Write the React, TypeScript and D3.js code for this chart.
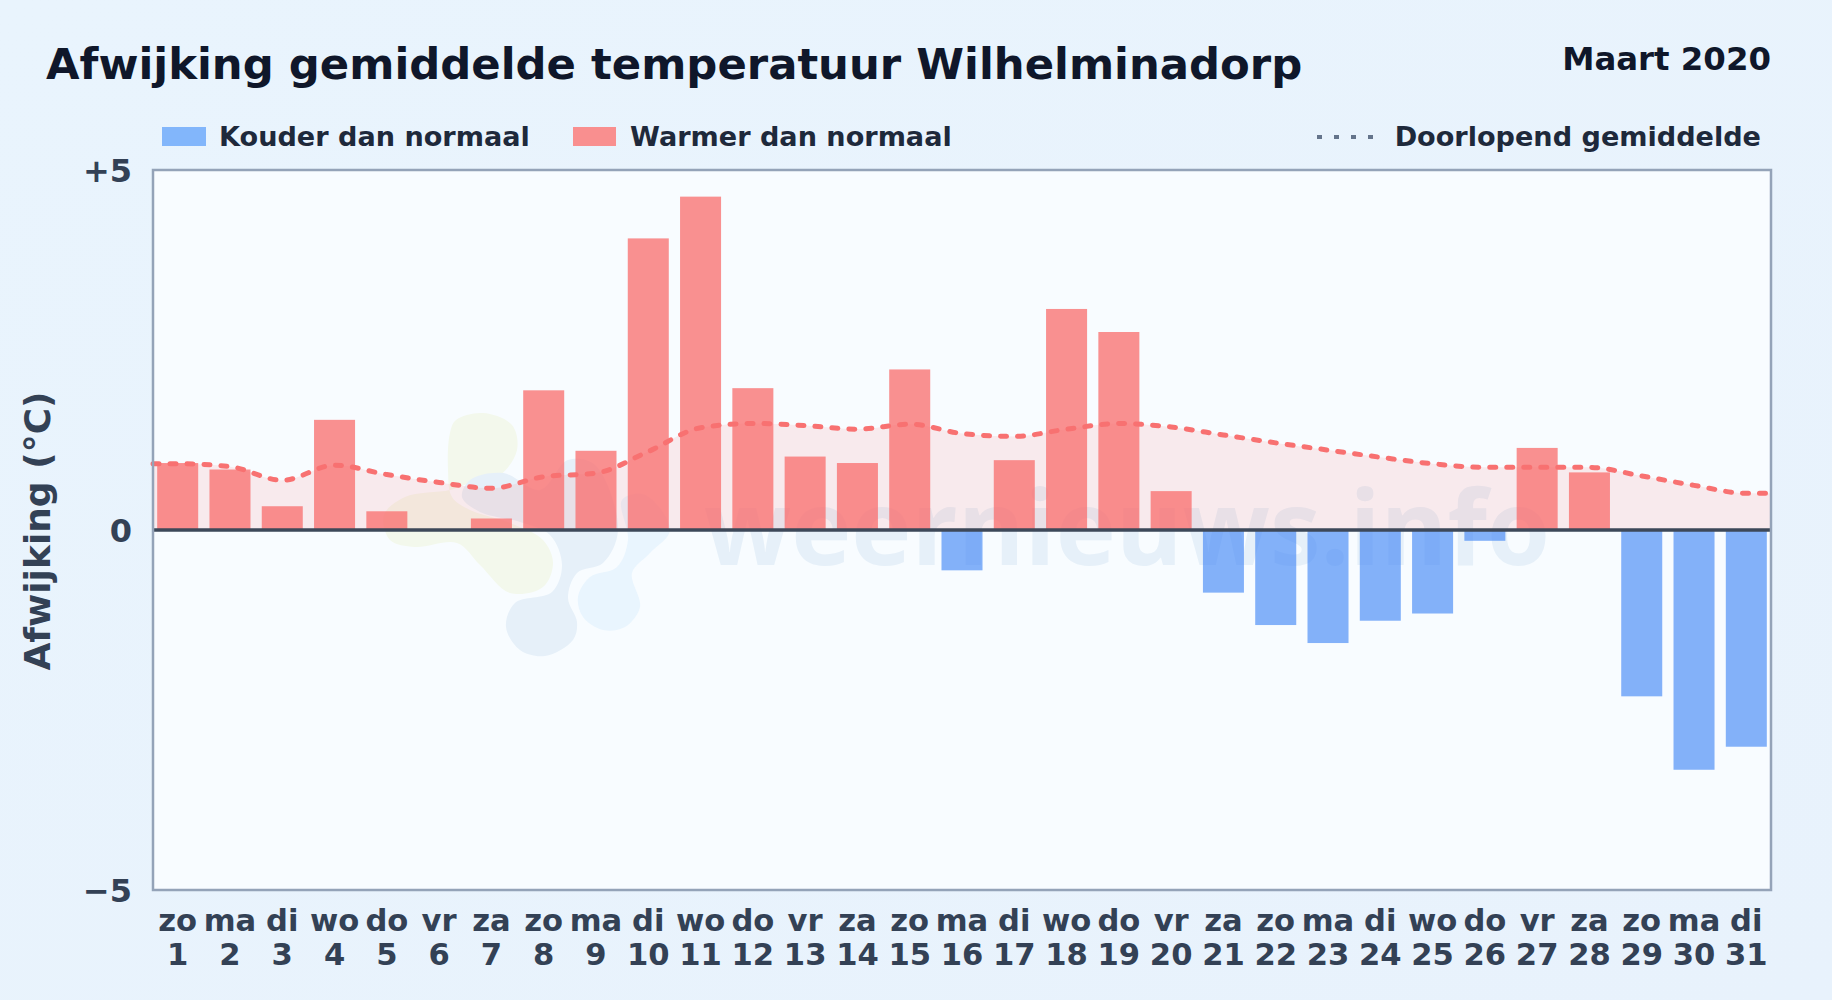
import React from "react";
import * as d3 from "d3";

const weekdays = ["zo","ma","di","wo","do","vr","za","zo","ma","di","wo","do","vr","za","zo","ma","di","wo","do","vr","za","zo","ma","di","wo","do","vr","za","zo","ma","di"];
const days = d3.range(1, 32);
const deviation = [0.93,0.84,0.33,1.53,0.26,0,0.16,1.94,1.1,4.05,4.63,1.97,1.02,0.93,2.23,-0.56,0.97,3.07,2.75,0.54,-0.87,-1.32,-1.57,-1.26,-1.16,-0.15,1.14,0.8,-2.31,-3.33,-3.01];
const runningMean = [0.92,0.88,0.69,0.9,0.77,0.66,0.58,0.74,0.79,1.09,1.42,1.48,1.45,1.40,1.47,1.34,1.3,1.40,1.48,1.43,1.32,1.21,1.11,1.01,0.92,0.87,0.87,0.87,0.75,0.62,0.51];
const yTicks: [number, string][] = [[5, "+5"], [0, "0"], [-5, "−5"]];

const FONT = "'DejaVu Sans', sans-serif";
const plot = { l: 153, r: 1771, t: 170, b: 890 };

const logoGreen: [number, number][] = [[450,433],[456,420],[483,413],[512,425],[517,450],[500,475],[470,483],[450,490],[405,497],[384,515],[390,540],[415,547],[457,543],[480,565],[510,593],[543,587],[553,563],[543,540],[510,523],[470,510],[452,497],[448,470]];
const logoDark: [number, number][] = [[462,497],[470,480],[503,473],[540,490],[568,460],[595,465],[618,530],[603,563],[577,573],[568,598],[577,622],[573,640],[545,656],[520,650],[506,627],[515,603],[552,592],[562,565],[550,535],[520,522],[480,512]];
const logoLight: [number, number][] = [[578,597],[590,577],[617,567],[628,540],[622,500],[645,495],[670,530],[650,553],[632,573],[640,607],[625,627],[603,630],[583,617]];

export default function App() {
  const x = d3.scaleBand<number>().domain(days).range([plot.l, plot.r]).paddingInner(0.2156).paddingOuter(0.08);
  const xc = d3.scaleLinear().domain([1, 31]).range([x(1)! + x.bandwidth() / 2, x(31)! + x.bandwidth() / 2]);
  const y = d3.scaleLinear().domain([-5, 5]).range([plot.b, plot.t]);

  const meanPts: [number, number][] = [[plot.l, runningMean[0]], ...days.map((d, i) => [xc(d), runningMean[i]] as [number, number]), [plot.r, runningMean[30]]];

  const line = d3.line<[number, number]>().x(d => d[0]).y(d => y(d[1])).curve(d3.curveMonotoneX);
  const area = d3.area<[number, number]>().x(d => d[0]).y0(y(0)).y1(d => y(d[1])).curve(d3.curveMonotoneX);
  const blob = d3.line().curve(d3.curveCatmullRomClosed.alpha(0.5));

  return (
    <svg width={1832} height={1000} viewBox="0 0 1832 1000" style={{ position: "absolute", left: 0, top: 0, display: "block" }} fontFamily={FONT}>
      <defs>
        <linearGradient id="bg" x1="0" y1="0" x2="1" y2="1">
          <stop offset="0%" stopColor="#e9f4fd" />
          <stop offset="100%" stopColor="#e8f2fc" />
        </linearGradient>
      </defs>
      <rect width={1832} height={1000} fill="url(#bg)" />

      <text x={46} y={79} fontSize={43.35} fontWeight={700} fill="#0f172a">Afwijking gemiddelde temperatuur Wilhelminadorp</text>
      <text x={1771} y={70} fontSize={32.4} fontWeight={700} fill="#0f172a" textAnchor="end">Maart 2020</text>

      <rect x={162} y={127} width={44} height={19} fill="#82b6fb" />
      <text x={219} y={146} fontSize={27.1} fontWeight={700} fill="#1e293b">Kouder dan normaal</text>
      <rect x={573} y={127} width={43} height={19} fill="#f98f8f" />
      <text x={630} y={146} fontSize={27.1} fontWeight={700} fill="#1e293b">Warmer dan normaal</text>
      <line x1={1317} x2={1375} y1={137} y2={137} stroke="#64748b" strokeWidth={4} strokeDasharray="5 12" />
      <text x={1761} y={146} fontSize={27.1} fontWeight={700} fill="#1e293b" textAnchor="end">Doorlopend gemiddelde</text>

      <rect x={plot.l} y={plot.t} width={plot.r - plot.l} height={plot.b - plot.t} fill="#f8fcff" />

      <g>
        <path d={blob(logoGreen)!} fill="#f3f8ec" />
        <path d={blob(logoDark)!} fill="#e6f0f9" />
        <path d={blob(logoLight)!} fill="#e9f5fe" />
        <text x={704} y={565} fontSize={104} fontWeight={700} fontFamily="'Open Sans', sans-serif" fill="#e6f0f9" textLength={846} lengthAdjust="spacingAndGlyphs">weernieuws.info</text>
      </g>

      <path d={area(meanPts)!} fill="#f87171" fillOpacity={0.13} />

      {days.map((d, i) => {
        const v = deviation[i];
        if (v === 0) return null;
        return (
          <rect key={d} x={x(d)} width={x.bandwidth()} y={v > 0 ? y(v) : y(0)} height={Math.abs(y(v) - y(0))}
            fill={v > 0 ? "#f87171" : "#3b82f6"} fillOpacity={v > 0 ? 0.78 : 0.62} />
        );
      })}

      <path d={line(meanPts)!} fill="none" stroke="#f87171" strokeWidth={5} strokeDasharray="6 11" strokeLinecap="round" />
      <line x1={plot.l} x2={plot.r} y1={y(0)} y2={y(0)} stroke="#3d4859" strokeWidth={3.5} />
      <rect x={plot.l} y={plot.t} width={plot.r - plot.l} height={plot.b - plot.t} fill="none" stroke="#94a3b8" strokeWidth={2.5} />

      {yTicks.map(([v, label]) => (
        <text key={v} x={132} y={y(v) + 12} fontSize={32} fontWeight={700} fill="#334155" textAnchor="end">{label}</text>
      ))}
      <text transform={`translate(50,${(plot.t + plot.b) / 2 + 1}) rotate(-90)`} fontSize={36} fontWeight={700} fill="#334155" textAnchor="middle">Afwijking (°C)</text>

      {days.map((d, i) => (
        <g key={d} fontSize={30.6} fontWeight={700} fill="#334155" textAnchor="middle">
          <text x={xc(d)} y={931}>{weekdays[i]}</text>
          <text x={xc(d)} y={965}>{d}</text>
        </g>
      ))}
    </svg>
  );
}
